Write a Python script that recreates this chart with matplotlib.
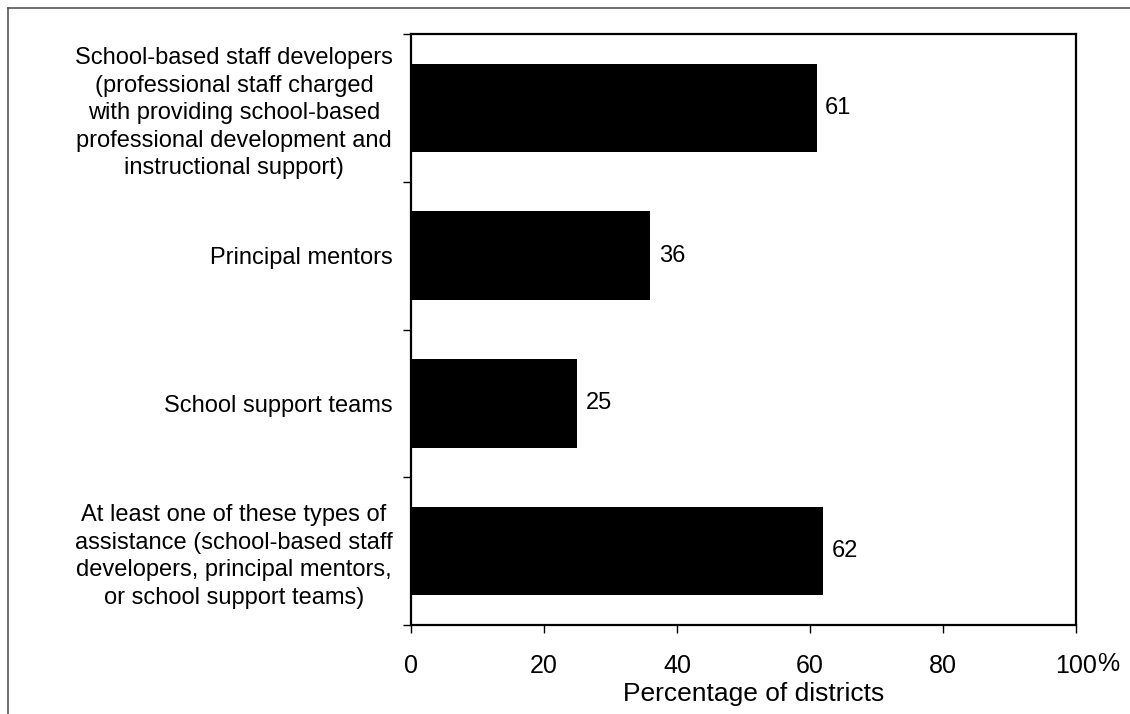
import matplotlib
matplotlib.use("Agg")
import matplotlib.pyplot as plt
from matplotlib.lines import Line2D

categories = [
    "School-based staff developers\n(professional staff charged\nwith providing school-based\nprofessional development and\ninstructional support)",
    "Principal mentors",
    "School support teams",
    "At least one of these types of\nassistance (school-based staff\ndevelopers, principal mentors,\nor school support teams)",
]
values = [61, 36, 25, 62]
xticks = [0, 20, 40, 60, 80, 100]
xtick_labels = ["0", "20", "40", "60", "80", "100"]

plt.rcParams['font.family'] = ['Liberation Sans', 'DejaVu Sans']

fig = plt.figure(figsize=(11.30, 7.14), dpi=100)
ax = fig.add_axes([0.3637, 0.1246, 0.5885, 0.8278])

n = len(categories)
ypos = list(range(n))
ax.barh(ypos, values, height=0.6, color='black')
ax.set_ylim(n - 0.5, -0.5)
ax.set_xlim(0, 100)

for y, v in zip(ypos, values):
    ax.annotate(f"{v}", (v, y), xytext=(6, 0), textcoords='offset points',
                va='center', ha='left', fontsize=17)

ax.set_yticks(ypos)
ax.set_yticklabels(categories, fontsize=17, multialignment='center', linespacing=1.32)
ax.tick_params(axis='y', which='major', length=0, pad=13)
ax.set_yticks([i - 0.5 for i in range(n + 1)], minor=True)
ax.tick_params(axis='y', which='minor', length=6, width=1, direction='out')

ax.set_xticks(xticks)
ax.set_xticklabels(xtick_labels, fontsize=18)
ax.tick_params(axis='x', length=6, width=1, direction='out', pad=15)
ax.set_xlabel("Percentage of districts", fontsize=19, labelpad=3)
ax.xaxis.label.set_x(0.516)

for s in ax.spines.values():
    s.set_linewidth(1.6)

# "%" sign after the last tick label, slightly raised
fig.canvas.draw()
lab = ax.get_xticklabels()[-1]
bb = lab.get_window_extent()
fig.text(bb.x1 / fig.bbox.width, (bb.y1 + 2) / fig.bbox.height, "%",
         fontsize=18, ha='left', va='top')

# outer frame (top and left)
fig.add_artist(Line2D([0.0071, 1.0], [0.9888, 0.9888], transform=fig.transFigure, color='#555555', lw=1.2))
fig.add_artist(Line2D([0.0071, 0.0071], [0.0, 0.9888], transform=fig.transFigure, color='#555555', lw=1.2))

fig.savefig("out.png", dpi=100)
